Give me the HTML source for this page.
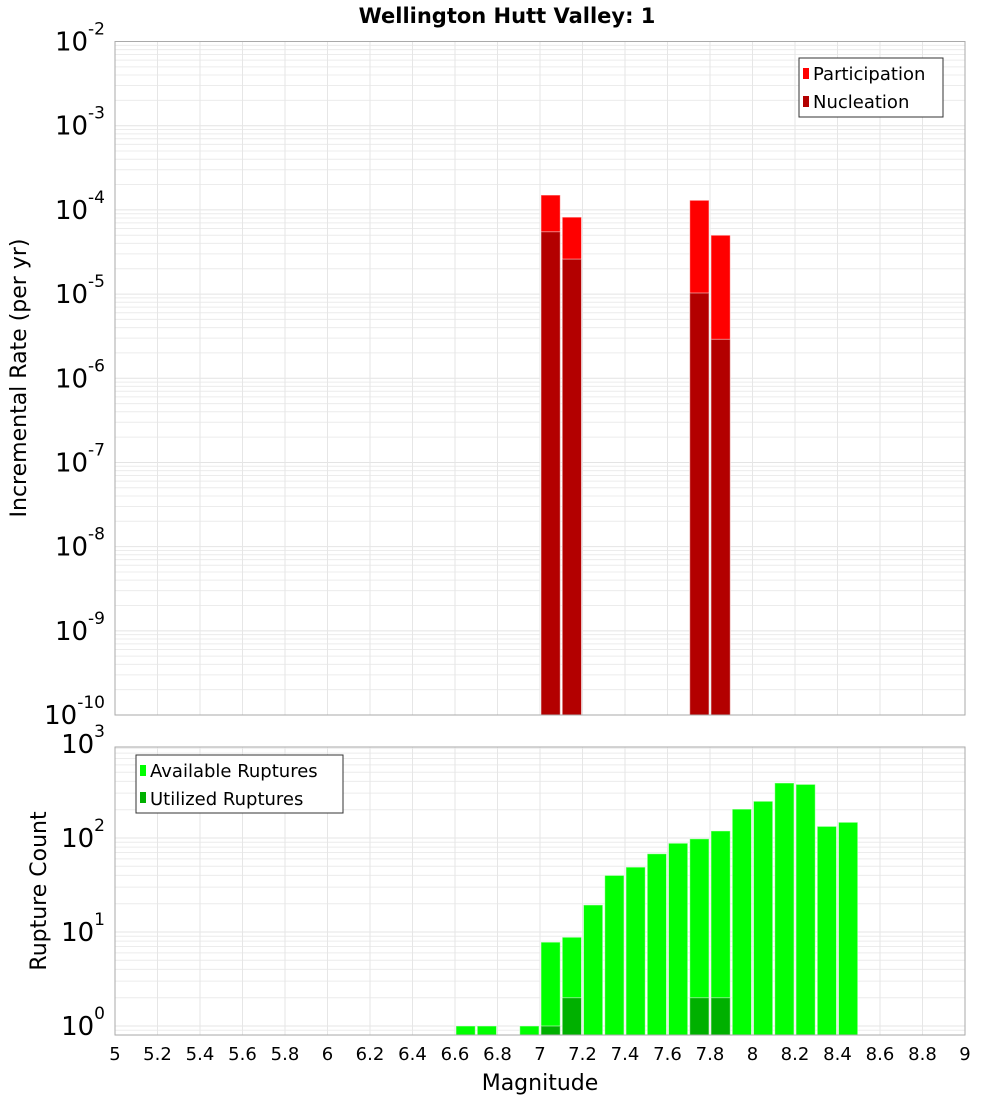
<!DOCTYPE html>
<html><head><meta charset="utf-8"><style>
html,body{margin:0;padding:0;background:#fff;}
svg{display:block;font-family:"DejaVu Sans","Liberation Sans",sans-serif;}
</style></head><body>
<svg id="chart" width="1000" height="1100" viewBox="0 0 1000 1100" xmlns="http://www.w3.org/2000/svg">
<text x="507" y="23" text-anchor="middle" font-size="21" font-weight="bold">Wellington Hutt Valley: 1</text>
<text transform="translate(26,378) rotate(-90)" text-anchor="middle" font-size="22">Incremental Rate (per yr)</text>
<text transform="translate(46,891) rotate(-90)" text-anchor="middle" font-size="22">Rupture Count</text>
<text x="540" y="1090" text-anchor="middle" font-size="22">Magnitude</text>
<g id="top"></g><g id="bot"></g><g id="xt"></g>
</svg>
<script>
// data
const topBins = [7.05, 7.15, 7.75, 7.85];
const participation = [1.5e-4, 8.2e-5, 1.3e-4, 5.0e-5];
const nucleation = [5.5e-5, 2.6e-5, 1.03e-5, 2.9e-6];
const botBins = [6.65, 6.75, 6.95, 7.05, 7.15, 7.25, 7.35, 7.45, 7.55, 7.65, 7.75, 7.85, 7.95, 8.05, 8.15, 8.25, 8.35, 8.45];
const available = [1, 1, 1, 7.8, 8.8, 19.4, 40, 49, 68, 88, 98, 119, 203, 246, 385, 372, 133, 147];
const utilBins = [7.05, 7.15, 7.75, 7.85];
const utilized = [1, 2, 2, 2];
const xTicks = [5,5.2,5.4,5.6,5.8,6,6.2,6.4,6.6,6.8,7,7.2,7.4,7.6,7.8,8,8.2,8.4,8.6,8.8,9];
const topExps = [-2,-3,-4,-5,-6,-7,-8,-9,-10];
const botExps = [3,2,1,0];

const NS = "http://www.w3.org/2000/svg";
const X0 = 115, X1 = 965;
const x = m => X0 + (m - 5) / 4 * (X1 - X0);
const T0 = 41.5, T1 = 715;
const yTop = v => T0 + (-2 - Math.log10(v)) * (T1 - T0) / 8;
const B0 = 747, B1 = 1035, BDEC = 94, BONE = 1026;
const yBot = v => BONE - Math.log10(v) * BDEC;

function mk(tag, attrs, parent) {
  const e = document.createElementNS(NS, tag);
  for (const k in attrs) e.setAttribute(k, attrs[k]);
  parent.appendChild(e);
  return e;
}
function grid(g, yTopPx, yBotPx, ylog, expMin, expMax) {
  for (let e = expMin; e < expMax; e++) for (let k = 1; k < 10; k++) {
    const yy = ylog(k * Math.pow(10, e));
    if (yy < yTopPx - 0.5 || yy > yBotPx + 0.5) continue;
    const l = mk("line", {x1: X0, x2: X1, y1: yy, y2: yy, stroke: k === 1 ? "#e4e4e4" : "#ececec", "stroke-width": 1}, g);
    
    
  }
  xTicks.forEach(t => {
    const l = mk("line", {x1: x(t), x2: x(t), y1: yTopPx, y2: yBotPx, stroke: "#e6e6e6", "stroke-width": 1}, g);
    
    
  });
}
function bar(g, m, v, ylog, base, fill, name) {
  const r = mk("rect", {x: x(m - 0.05) + 1, width: x(m + 0.05) - x(m - 0.05) - 2, y: ylog(v), height: base - ylog(v), fill: fill, stroke: "rgba(255,255,255,0.5)", "stroke-width": 1}, g);
  
  
}
function ylabel(g, yy, exp, name) {
  const t = mk("text", {x: 105, y: yy + 9, "text-anchor": "end", "font-size": 26}, g);
  
  
  const a = mk("tspan", {}, t); a.textContent = "10";
  const b = mk("tspan", {dy: -16, "font-size": 17}, t); b.textContent = String(exp);
}
// top
const gt = document.getElementById("top");
grid(gt, T0, T1, yTop, -10, -2);
topBins.forEach((m, i) => bar(gt, m, participation[i], yTop, T1, "#ff0000", "participation-bar"));
topBins.forEach((m, i) => bar(gt, m, nucleation[i], yTop, T1, "#b30000", "nucleation-bar"));
let fr = mk("rect", {x: X0, y: T0, width: X1 - X0, height: T1 - T0, fill: "none", stroke: "#aaa"}, gt);


topExps.forEach(e => ylabel(gt, yTop(Math.pow(10, e)), e, "top-y-tick-label"));
// top legend
let lg = mk("g", {}, gt);


mk("rect", {x: 799, y: 58, width: 144, height: 59, fill: "#fff", stroke: "#333"}, lg);
mk("rect", {x: 803, y: 68, width: 6, height: 11, fill: "#ff0000"}, lg);
mk("rect", {x: 803, y: 96, width: 6, height: 11, fill: "#b30000"}, lg);
let t1 = mk("text", {x: 813, y: 80, "font-size": 18}, lg); t1.textContent = "Participation";
 
let t2 = mk("text", {x: 813, y: 108, "font-size": 18}, lg); t2.textContent = "Nucleation";
 
// bottom
const gb = document.getElementById("bot");
grid(gb, B0, B1, yBot, -1, 3);
botBins.forEach((m, i) => bar(gb, m, available[i], yBot, B1, "#00ff00", "available-bar"));
utilBins.forEach((m, i) => bar(gb, m, utilized[i], yBot, B1, "#00b000", "utilized-bar"));
fr = mk("rect", {x: X0, y: B0, width: X1 - X0, height: B1 - B0, fill: "none", stroke: "#aaa"}, gb);


botExps.forEach(e => ylabel(gb, yBot(Math.pow(10, e)), e, "bottom-y-tick-label"));
lg = mk("g", {}, gb);


mk("rect", {x: 136, y: 755, width: 207, height: 58, fill: "#fff", stroke: "#333"}, lg);
mk("rect", {x: 140, y: 765, width: 6, height: 11, fill: "#00ff00"}, lg);
mk("rect", {x: 140, y: 792, width: 6, height: 11, fill: "#00b000"}, lg);
t1 = mk("text", {x: 150, y: 777, "font-size": 18}, lg); t1.textContent = "Available Ruptures";
 
t2 = mk("text", {x: 150, y: 805, "font-size": 18}, lg); t2.textContent = "Utilized Ruptures";
 
// x ticks
const gx = document.getElementById("xt");
xTicks.forEach(t => {
  const tx = mk("text", {x: x(t), y: 1060, "text-anchor": "middle", "font-size": 18}, gx);
  tx.textContent = String(t);
  
  
});
</script>
</body></html>
